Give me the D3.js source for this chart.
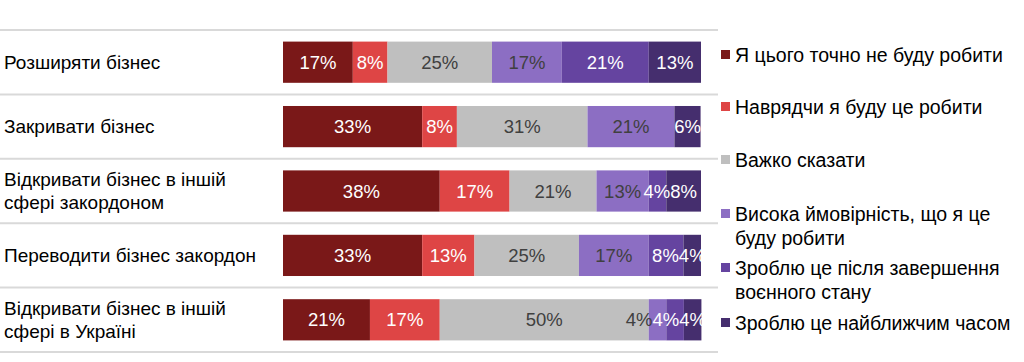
<!DOCTYPE html>
<html>
<head>
<meta charset="utf-8">
<script src="https://cdn.jsdelivr.net/npm/d3@7"></script>
<style>
  html, body { margin: 0; padding: 0; background: #fff; }
  svg { display: block; font-family: "Liberation Sans", Arial, sans-serif; }
</style>
</head>
<body>
<svg id="chart" width="1024" height="362"></svg>
<script>
// ---- data ----
const categories = [
  ["Розширяти бізнес"],
  ["Закривати бізнес"],
  ["Відкривати бізнес в іншій", "сфері закордоном"],
  ["Переводити бізнес закордон"],
  ["Відкривати бізнес в іншій", "сфері в Україні"]
];
const seriesNames = [
  ["Я цього точно не буду робити"],
  ["Наврядчи я буду це робити"],
  ["Важко сказати"],
  ["Висока ймовірність, що я це", "буду робити"],
  ["Зроблю це після завершення", "воєнного стану"],
  ["Зроблю це найближчим часом"]
];
const definitelyNot = [16.7, 33.3, 37.5, 33.3, 20.8];
const unlikely      = [8.3, 8.3, 16.7, 12.5, 16.7];
const hardToSay     = [25.0, 31.25, 20.8, 25.0, 50.0];
const likely        = [16.7, 20.8, 12.5, 16.7, 4.2];
const afterWar      = [20.8, 0, 4.2, 8.3, 4.2];
const soon          = [12.5, 6.25, 8.3, 4.2, 4.2];

const seriesValues = [definitelyNot, unlikely, hardToSay, likely, afterWar, soon];
const colors = ["#7a1818", "#de4545", "#bfbfbf", "#8c6ec3", "#6544a0", "#452e6e"];
const labelColors = ["#ffffff", "#ffffff", "#404040", "#404040", "#ffffff", "#ffffff"];

// ---- build table ----
const keys = seriesNames.map((d, i) => "s" + i);
const table = categories.map((c, r) => {
  const row = { idx: r };
  keys.forEach((k, i) => row[k] = seriesValues[i][r]);
  return row;
});
const stacked = d3.stack().keys(keys)(table);

const svg = d3.select("#chart");
const x = d3.scaleLinear().domain([0, 100]).range([283, 701]);
const y = d3.scaleBand().domain(d3.range(categories.length)).range([30, 352]).padding(0);
const barH = y.bandwidth() * 0.64;
const fmt = d3.format(".0f");

svg.append("defs").append("clipPath").attr("id", "plotclip")
  .append("rect").attr("x", x.range()[0]).attr("y", 0)
  .attr("width", x.range()[1] - x.range()[0] + 1).attr("height", 362);

// grid lines
const bounds = d3.range(categories.length + 1).map(i => 30 + i * y.step());
svg.append("g").selectAll("line").data(bounds).join("line")
  .attr("x1", 0).attr("x2", 718)
  .attr("y1", d => d).attr("y2", d => d)
  .attr("stroke", "#d9d9d9").attr("stroke-width", 2);

// bars
const layers = svg.append("g").selectAll("g").data(stacked).join("g")
  .attr("fill", (d, i) => colors[i]);
layers.selectAll("rect").data(d => d).join("rect")
  .attr("x", d => x(d[0]))
  .attr("width", d => Math.max(0, x(d[1]) - x(d[0])))
  .attr("y", d => y(d.data.idx) + (y.bandwidth() - barH) / 2)
  .attr("height", barH);

// value labels
const labelG = svg.append("g").attr("clip-path", "url(#plotclip)");
const labelsByRow = categories.map(() => []);
stacked.forEach((layer, i) => {
  layer.forEach(d => {
    if (d[1] - d[0] <= 0) return;
    const t = labelG.append("text")
      .attr("x", (x(d[0]) + x(d[1])) / 2)
      .attr("y", y(d.data.idx) + y.bandwidth() / 2)
      .attr("dy", "0.36em")
      .attr("text-anchor", "middle")
      .attr("font-size", 18.5)
      .attr("fill", labelColors[i])
      .text(fmt(d[1] - d[0]) + "%");
    labelsByRow[d.data.idx].push(t);
  });
});
// resolve overlaps right-to-left
labelsByRow.forEach(row => {
  let limit = Infinity;
  for (let k = row.length - 1; k >= 0; k--) {
    const t = row[k];
    const w = t.node().getComputedTextLength();
    let cx = +t.attr("x");
    if (cx + w / 2 > limit) cx = limit - w / 2;
    t.attr("x", cx);
    limit = cx - w / 2;
  }
});

// category labels
const catG = svg.append("g").selectAll("text").data(categories).join("text")
  .attr("x", 4)
  .attr("font-size", 19)
  .attr("fill", "#000");
catG.each(function(lines, r) {
  const cy = y(r) + y.bandwidth() / 2;
  const lh = 23;
  const y0 = cy - (lines.length - 1) * lh / 2;
  d3.select(this).selectAll("tspan").data(lines).join("tspan")
    .attr("x", 4)
    .attr("y", (d, j) => y0 + j * lh)
    .attr("dy", "0.36em")
    .text(d => d);
});

// legend
const legendY = [55, 107, 160, 214, 268, 323];
const leg = svg.append("g").selectAll("g").data(seriesNames).join("g")
  .attr("transform", (d, i) => `translate(721, ${legendY[i]})`);
leg.append("rect").attr("x", 0).attr("y", -5).attr("width", 9).attr("height", 9)
  .attr("fill", (d, i) => colors[i]);
leg.append("text").attr("font-size", 19.5).attr("fill", "#000")
  .selectAll("tspan").data(d => d).join("tspan")
  .attr("x", 14)
  .attr("y", (d, j) => j * 24)
  .attr("dy", "0.36em")
  .text(d => d);
</script>
</body>
</html>
